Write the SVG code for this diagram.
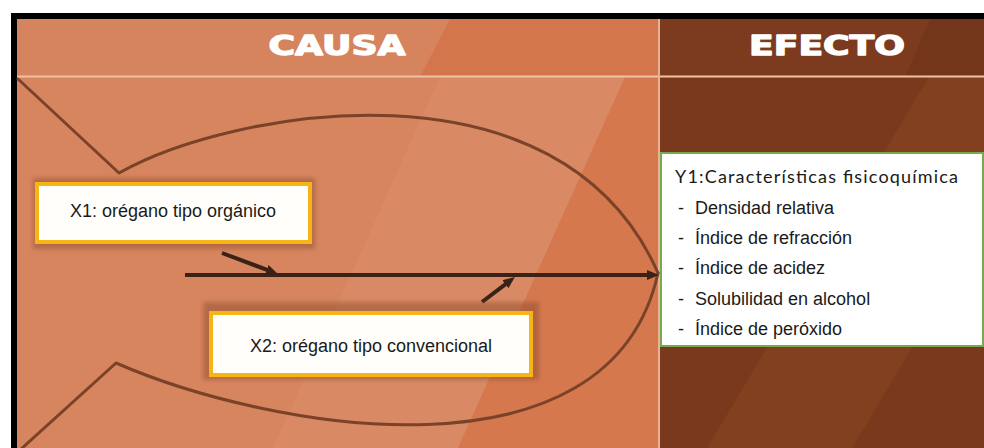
<svg xmlns="http://www.w3.org/2000/svg" width="984" height="448" viewBox="0 0 984 448">
  <defs>
    <style>
      .hdr { font-family: "DejaVu Sans", "Liberation Sans", sans-serif; font-weight: bold; font-size: 27px; fill: #ffffff; stroke: #ffffff; stroke-width: 1.3; stroke-linejoin: round; }
      .lbl { font-family: "Liberation Sans", Arial, sans-serif; font-size: 18px; fill: #1a1a1a; }
      .ttl { font-family: Lato, "Open Sans", sans-serif; font-size: 18px; fill: #1a1a1a; }
      .fish { fill: none; stroke: #7a4329; stroke-width: 3; stroke-linejoin: round; stroke-linecap: round; }
      .spine { fill: none; stroke: #3a2217; stroke-width: 4; }
      .cause { fill: #fffefb; stroke: #f5b516; stroke-width: 4; }
      .effect { fill: #ffffff; stroke: #7aa84f; stroke-width: 2; }
      .shadow { fill: #8a4a2c; opacity: 0.45; }
    </style>
    <marker id="ah" markerUnits="userSpaceOnUse" markerWidth="12" markerHeight="10" refX="4" refY="5" orient="auto">
      <path d="M0,0 L12,5 L0,10 z" fill="#3a2217"/>
    </marker>
    <filter id="blur" x="-10%" y="-30%" width="120%" height="160%">
      <feGaussianBlur stdDeviation="2"/>
    </filter>
  </defs>

  <!-- background -->
  <rect x="0" y="0" width="984" height="448" fill="#ffffff"/>
  <rect x="11" y="13" width="973" height="435" fill="#000000"/>

  <!-- CAUSA panel -->
  <rect x="17" y="19" width="642" height="58" fill="#d6845e"/>
  <polygon points="450,19 659,19 659,77 420,77" fill="#d4764c"/>
  <rect x="17" y="77" width="642" height="371" fill="#d7855f"/>
  <polygon points="440,77 625,77 458,448 273,448" fill="#d98a65"/>
  <polygon points="625,77 659,77 659,448 458,448" fill="#d5784e"/>

  <!-- EFECTO panel -->
  <rect x="659" y="19" width="325" height="58" fill="#7c3b1e"/>
  <polygon points="930,19 984,19 984,77 905,77" fill="#74361b"/>
  <rect x="659" y="77" width="325" height="371" fill="#7a391c"/>
  <polygon points="929,77 1074,77 852,448 707,448" fill="#82401f"/>

  <!-- dividers -->
  <line x1="17" y1="76.5" x2="984" y2="76.5" stroke="#f0c2a6" stroke-width="2"/>
  <line x1="659" y1="19" x2="659" y2="448" stroke="#eab295" stroke-width="2"/>

  <!-- headers -->
  <text class="hdr" x="337" y="55" text-anchor="middle" textLength="137" lengthAdjust="spacingAndGlyphs">CAUSA</text>
  <text class="hdr" x="827" y="55" text-anchor="middle" textLength="156" lengthAdjust="spacingAndGlyphs">EFECTO</text>

  <!-- fish outline -->
  <g id="fish">
    <path class="fish" d="M18,79 L119,173 C230,110 560,50 658,273"/>
    <path class="fish" d="M658,273 C610,490 270,430 116,363 L20,450"/>
  </g>

  <!-- connectors -->
  <g id="connectors">
    <line class="spine" x1="185" y1="275" x2="651" y2="275" marker-end="url(#ah)"/>
    <line class="spine" x1="222" y1="253" x2="270.5" y2="271.2" marker-end="url(#ah)"/>
    <line class="spine" x1="482" y1="302" x2="508.6" y2="281.8" marker-end="url(#ah)"/>
  </g>

  <!-- cause X1 -->
  <g id="node-x1">
    <rect class="shadow" x="33" y="178" width="282" height="71" filter="url(#blur)"/>
    <rect class="cause" x="37" y="184" width="273" height="58"/>
    <text class="lbl" x="173" y="217" text-anchor="middle">X1: orégano tipo orgánico</text>
  </g>

  <!-- cause X2 -->
  <g id="node-x2">
    <rect class="shadow" x="203" y="302" width="336" height="78" filter="url(#blur)"/>
    <rect class="cause" x="211" y="313" width="320" height="62"/>
    <text class="lbl" x="371" y="352" text-anchor="middle">X2: orégano tipo convencional</text>
  </g>

  <!-- effect Y1 -->
  <g id="node-y1">
    <rect class="effect" x="661" y="153" width="322" height="193"/>
    <text class="ttl" x="675" y="183" textLength="283" lengthAdjust="spacing">Y1:Características fisicoquímica</text>
    <text class="lbl" x="678" y="214">-</text>
    <text class="lbl" x="695" y="214">Densidad relativa</text>
    <text class="lbl" x="678" y="244">-</text>
    <text class="lbl" x="695" y="244">Índice de refracción</text>
    <text class="lbl" x="678" y="274">-</text>
    <text class="lbl" x="695" y="274">Índice de acidez</text>
    <text class="lbl" x="678" y="305">-</text>
    <text class="lbl" x="695" y="305">Solubilidad en alcohol</text>
    <text class="lbl" x="678" y="335">-</text>
    <text class="lbl" x="695" y="335">Índice de peróxido</text>
  </g>
</svg>
